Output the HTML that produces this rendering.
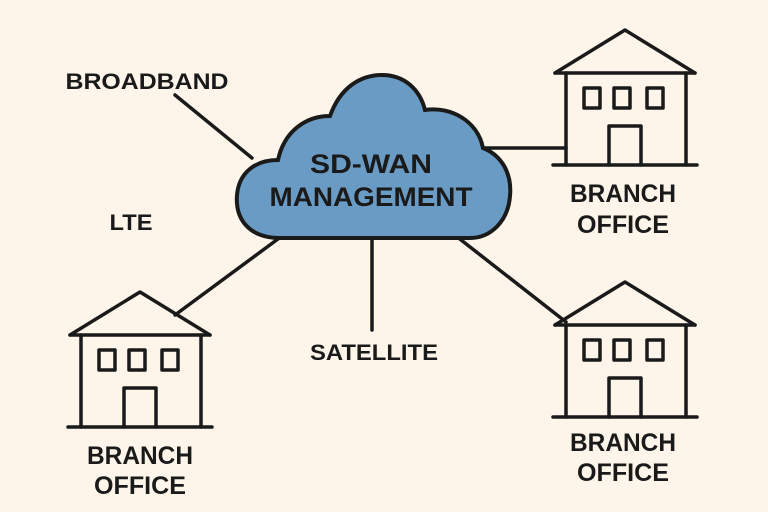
<!DOCTYPE html>
<html><head><meta charset="utf-8"><style>
html,body{margin:0;padding:0;background:#fdf5e9;}
svg{display:block}
text{font-family:"Liberation Sans",sans-serif;font-weight:bold;fill:#1a1a1a;text-anchor:middle}
</style></head><body>
<svg width="768" height="512" viewBox="0 0 768 512">
<rect width="768" height="512" fill="#fdf5e9"/>
<g stroke="#1a1a1a" stroke-width="3.5" stroke-linecap="round" fill="none">
<line x1="175" y1="95" x2="252" y2="158"/>
<line x1="485" y1="148" x2="566" y2="148"/>
<line x1="282" y1="236" x2="175" y2="315"/>
<line x1="372" y1="238" x2="372" y2="330"/>
<line x1="456" y1="236" x2="566" y2="322"/>
</g>
<path d="M280,238 C250,238 235,220 237,195 C239,172 256,160 278,160 C284,132 305,116 330,116 C340,88 360,75 382,75 C405,75 420,90 425,110 C452,106 478,122 483,148 C503,156 512,175 510,196 C508,222 490,238 470,238 Z" fill="#6a9bc4" stroke="#1a1a1a" stroke-width="4"/>
<text x="371" y="173" font-size="27" textLength="122" lengthAdjust="spacingAndGlyphs">SD-WAN</text>
<text x="371" y="206" font-size="27" textLength="203" lengthAdjust="spacingAndGlyphs">MANAGEMENT</text>
<text x="147" y="89" font-size="22" textLength="163" lengthAdjust="spacingAndGlyphs">BROADBAND</text>
<text x="131" y="230" font-size="22" textLength="43" lengthAdjust="spacingAndGlyphs">LTE</text>
<text x="374" y="360" font-size="22" textLength="128" lengthAdjust="spacingAndGlyphs">SATELLITE</text>
<defs>
<g id="h" stroke="#1a1a1a" stroke-width="3.5" fill="none" stroke-linejoin="round" stroke-linecap="round">
<polyline points="-70,43 0,0 70,43"/>
<line x1="-70" y1="43" x2="70" y2="43"/>
<line x1="-59" y1="43" x2="-59" y2="135"/>
<line x1="61" y1="43" x2="61" y2="135"/>
<line x1="-72" y1="135" x2="72" y2="135"/>
<rect x="-41" y="58" width="16" height="20"/>
<rect x="-11" y="58" width="16" height="20"/>
<rect x="22" y="58" width="16" height="20"/>
<polyline points="-16,135 -16,96 16,96 16,135"/>
</g>
</defs>
<use href="#h" x="625" y="30"/>
<use href="#h" x="140" y="292"/>
<use href="#h" x="625" y="282"/>
<text x="623" y="202" font-size="25" textLength="106" lengthAdjust="spacingAndGlyphs">BRANCH</text>
<text x="623" y="233" font-size="25" textLength="92" lengthAdjust="spacingAndGlyphs">OFFICE</text>
<text x="140" y="464" font-size="25" textLength="106" lengthAdjust="spacingAndGlyphs">BRANCH</text>
<text x="140" y="494" font-size="25" textLength="92" lengthAdjust="spacingAndGlyphs">OFFICE</text>
<text x="623" y="451" font-size="25" textLength="106" lengthAdjust="spacingAndGlyphs">BRANCH</text>
<text x="623" y="481" font-size="25" textLength="92" lengthAdjust="spacingAndGlyphs">OFFICE</text>
</svg>
</body></html>
